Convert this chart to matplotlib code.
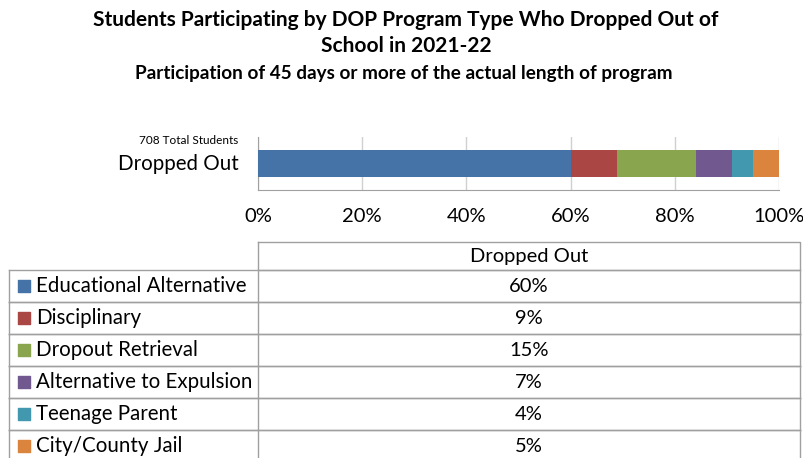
import matplotlib
matplotlib.use('Agg')
import matplotlib.pyplot as plt
import numpy as np

plt.rcParams['font.family'] = ['Lato', 'DejaVu Sans']

# data
programs = ['Educational Alternative', 'Disciplinary', 'Dropout Retrieval',
            'Alternative to Expulsion', 'Teenage Parent', 'City/County Jail']
pct = [60, 9, 15, 7, 4, 5]
colors = ['#4572A7', '#AA4643', '#89A54E', '#71588F', '#4198AF', '#DB843D']
category = 'Dropped Out'
total_label = '708 Total Students'
ticks = [0, 20, 40, 60, 80, 100]

W, H = 804, 458
fig = plt.figure(figsize=(W / 100, H / 100), dpi=100)

# titles
fig.text(0.505, 1 - 20 / H, 'Students Participating by DOP Program Type Who Dropped Out of',
         ha='center', va='center', fontsize=15, fontweight='bold')
fig.text(0.505, 1 - 46 / H, 'School in 2021-22',
         ha='center', va='center', fontsize=15, fontweight='bold')
fig.text(0.502, 1 - 73 / H, 'Participation of 45 days or more of the actual length of program',
         ha='center', va='center', fontsize=13.6, fontweight='bold')

# stacked bar
ax = fig.add_axes([258 / W, 1 - 190 / H, (779 - 258) / W, (190 - 137) / H])
left = 0
for v, c in zip(pct, colors):
    ax.barh(0, v, left=left, height=0.51, color=c, zorder=3)
    left += v
ax.set_xlim(0, 100)
ax.set_ylim(-0.5, 0.5)
ax.set_xticks(ticks)
ax.set_xticklabels([f'{t}%' for t in ticks], fontsize=14.5)
ax.tick_params(axis='x', length=0, pad=13)
ax.set_yticks([])
ax.grid(axis='x', color='#D0D0D0', lw=1, zorder=0)
for s in ['top', 'right']:
    ax.spines[s].set_visible(False)
for s in ['left', 'bottom']:
    ax.spines[s].set_color('#A0A0A0')
ax.text(-0.037, 0.5, category, transform=ax.transAxes, ha='right', va='center', fontsize=14.8)
ax.text(-0.037, 0.93, total_label, transform=ax.transAxes, ha='right', va='center', fontsize=8.5)

# data table
tx0, tx1 = 9, 800
tax = fig.add_axes([tx0 / W, 0, (tx1 - tx0) / W, (458 - 242) / H])
split = (258 - tx0) / (tx1 - tx0)
n = len(programs)
tax.set_xlim(0, 1)
tax.set_ylim(5.875, -0.875)
tax.axis('off')
lc = '#A0A0A0'
# header cell
tax.plot([split, 1, 1, split, split], [-0.875, -0.875, 0, 0, -0.875], color=lc, lw=1, clip_on=False)
tax.text((split + 1) / 2, -0.42, category, ha='center', va='center', fontsize=14.5)
for i, (p, v, c) in enumerate(zip(programs, pct, colors)):
    tax.plot([0, 1], [i + 1, i + 1], color=lc, lw=1, clip_on=False)
    tax.plot([0, 1], [i, i], color=lc, lw=1, clip_on=False)
    tax.plot([0, 0], [i, i + 1], color=lc, lw=1, clip_on=False)
    tax.plot([split, split], [i, i + 1], color=lc, lw=1, clip_on=False)
    tax.plot([1, 1], [i, i + 1], color=lc, lw=1, clip_on=False)
    tax.scatter([0.0195], [i + 0.5], marker='s', s=75, color=c, clip_on=False)
    tax.text(0.034, i + 0.5, p, ha='left', va='center', fontsize=14.8)
    tax.text((split + 1) / 2, i + 0.5, f'{v}%', ha='center', va='center', fontsize=14.5)

fig.savefig('out.png', dpi=100)
